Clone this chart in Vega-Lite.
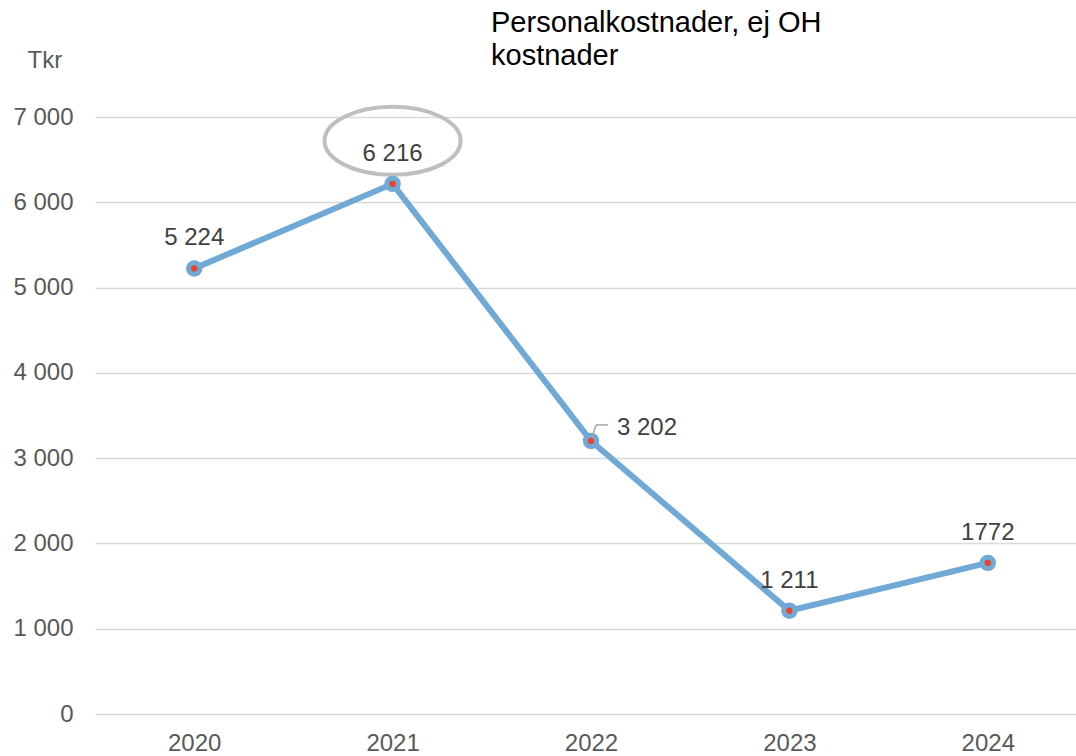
{
  "$schema": "https://vega.github.io/schema/vega-lite/v6.json",
  "width": 992,
  "height": 597,
  "autosize": {"type": "none"},
  "padding": {"left": 95, "top": 117, "right": -11, "bottom": 42},
  "background": "white",
  "config": {"font": "Liberation Sans", "view": {"stroke": null}},
  "title": {
    "text": ["Personalkostnader, ej OH", "kostnader"],
    "anchor": "start",
    "frame": "group",
    "dx": 396,
    "offset": -46,
    "baseline": "alphabetic",
    "fontSize": 29,
    "fontWeight": "normal",
    "lineHeight": 33,
    "color": "#000000",
    "font": "Liberation Sans"
  },
  "data": {
    "values": [
      {"year": "2020", "value": 5224, "label": "5 224"},
      {"year": "2021", "value": 6216, "label": "6 216"},
      {"year": "2022", "value": 3202, "label": "3 202"},
      {"year": "2023", "value": 1211, "label": "1 211"},
      {"year": "2024", "value": 1772, "label": "1772"}
    ]
  },
  "encoding": {
    "x": {
      "field": "year",
      "type": "ordinal",
      "scale": {"type": "point", "padding": 0.5},
      "axis": {
        "title": null,
        "labelAngle": 0,
        "domain": false,
        "ticks": false,
        "grid": false,
        "labelFontSize": 24,
        "labelColor": "#595959",
        "labelPadding": 17
      }
    },
    "y": {
      "field": "value",
      "type": "quantitative",
      "scale": {"domain": [0, 7000], "nice": false},
      "axis": {
        "values": [0, 1000, 2000, 3000, 4000, 5000, 6000, 7000],
        "grid": true,
        "gridColor": "#D9D9D9",
        "gridWidth": 1.5,
        "domain": false,
        "ticks": false,
        "labelFontSize": 24,
        "labelColor": "#595959",
        "labelPadding": 22,
        "labelExpr": "replace(format(datum.value, ','), ',', ' ')",
        "title": "Tkr",
        "titleAngle": 0,
        "titleAlign": "left",
        "titleBaseline": "alphabetic",
        "titleX": -68,
        "titleY": -50,
        "titleFontSize": 24,
        "titleFontWeight": "normal",
        "titleColor": "#595959"
      }
    }
  },
  "layer": [
    {
      "transform": [{"filter": "datum.year == '2021'"}],
      "mark": {
        "type": "point",
        "shape": "M -1 0 A 1 0.5 0 1 0 1 0 A 1 0.5 0 1 0 -1 0 Z",
        "size": 18496,
        "filled": false,
        "stroke": "#BFBFBF",
        "strokeWidth": 4,
        "opacity": 1,
        "yOffset": -43
      }
    },
    {
      "mark": {"type": "line", "color": "#70A8D6", "strokeWidth": 6}
    },
    {
      "mark": {"type": "circle", "size": 270, "color": "#70A8D6", "opacity": 1}
    },
    {
      "transform": [{"filter": "datum.year == '2022'"}],
      "mark": {"type": "rule", "color": "#A6A6A6", "strokeWidth": 1.5, "x2Offset": 5, "y2Offset": -16},
      "encoding": {"x2": {"field": "year"}, "y2": {"field": "value"}}
    },
    {
      "transform": [{"filter": "datum.year == '2022'"}],
      "mark": {"type": "rule", "color": "#A6A6A6", "strokeWidth": 1.5, "xOffset": 5, "yOffset": -16, "x2Offset": 17, "y2Offset": -16},
      "encoding": {"x2": {"field": "year"}, "y2": {"field": "value"}}
    },
    {
      "mark": {"type": "circle", "size": 40, "color": "#E8442A", "opacity": 1}
    },
    {
      "transform": [{"filter": "datum.year != '2022'"}],
      "mark": {"type": "text", "dy": -23, "baseline": "alphabetic", "fontSize": 24, "color": "#404040"},
      "encoding": {"text": {"field": "label"}}
    },
    {
      "transform": [{"filter": "datum.year == '2022'"}],
      "mark": {"type": "text", "align": "left", "dx": 26, "dy": -6, "baseline": "alphabetic", "fontSize": 24, "color": "#404040"},
      "encoding": {"text": {"field": "label"}}
    }
  ]
}
